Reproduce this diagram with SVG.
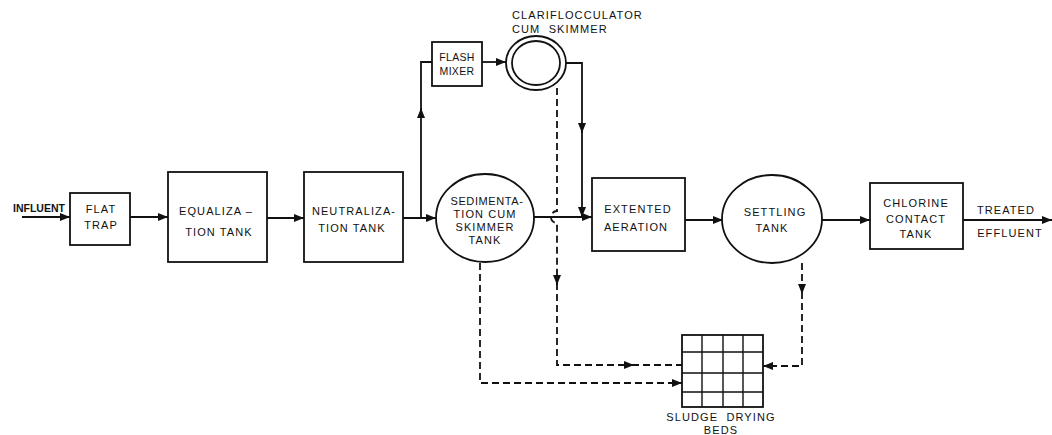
<svg xmlns="http://www.w3.org/2000/svg" width="1052" height="435" viewBox="0 0 1052 435">
<style>
.n{fill:#fff;stroke:#111;stroke-width:1.8}
.t{font-family:"Liberation Sans",Arial,sans-serif;font-size:11px;fill:#111;text-anchor:middle;letter-spacing:1.1px}
.l{stroke:#111;stroke-width:1.8;fill:none}
.d{stroke:#111;stroke-width:1.8;fill:none;stroke-dasharray:7 4}
.g{stroke:#111;stroke-width:1.4}
</style>
<defs>
<marker id="a" viewBox="0 0 10 8" refX="10" refY="4" markerWidth="10" markerHeight="8" markerUnits="userSpaceOnUse" orient="auto">
<path d="M0,0 L10,4 L0,8 Z" fill="#111"/>
</marker>
</defs>
<rect width="1052" height="435" fill="#fff"/>
<g id="connectors">
<path class="l" d="M22,217 H70" marker-end="url(#a)"/>
<path class="l" d="M130,217 H168" marker-end="url(#a)"/>
<path class="l" d="M267,218 H304" marker-end="url(#a)"/>
<path class="l" d="M403,218 H436" marker-end="url(#a)"/>
<path class="l" d="M421,218 V108" marker-end="url(#a)"/>
<path class="l" d="M421,110 V62 H432"/>
<path class="l" d="M482,62 H506" marker-end="url(#a)"/>
<path class="l" d="M566,63 H582 V133" marker-end="url(#a)"/>
<path class="l" d="M582,131 V217" marker-end="url(#a)"/>
<path class="l" d="M534,217 H592" marker-end="url(#a)"/>
<path class="l" d="M685,220 H723" marker-end="url(#a)"/>
<path class="l" d="M822,220 H870" marker-end="url(#a)"/>
<path class="l" d="M963,220 H1052" marker-end="url(#a)"/>
<path class="d" d="M557,88 V211 A6,6 0 0 0 557,223 V285" marker-end="url(#a)"/>
<path class="d" d="M557,283 V365 H634" marker-end="url(#a)"/>
<path class="d" d="M632,365 H682"/>
<path class="d" d="M480,263 V383 H682" marker-end="url(#a)"/>
<path class="d" d="M802,263 V294" marker-end="url(#a)"/>
<path class="d" d="M802,292 V366 H763" marker-end="url(#a)"/>
</g>
<g id="influent"><text class="t" x="39" y="212" style="font-weight:bold;letter-spacing:0;font-size:10.5px">INFLUENT</text></g>
<g id="flat-trap">
<rect class="n" x="70" y="193" width="60" height="52"/>
<text class="t" x="101" y="213">FLAT</text>
<text class="t" x="101" y="229">TRAP</text>
</g>
<g id="equalization">
<rect class="n" x="168" y="172" width="99" height="90"/>
<text class="t" x="216" y="215" xml:space="preserve">EQUALIZA –</text>
<text class="t" x="219" y="236">TION TANK</text>
</g>
<g id="neutralization">
<rect class="n" x="304" y="172" width="99" height="90"/>
<text class="t" x="354" y="215">NEUTRALIZA-</text>
<text class="t" x="352" y="232">TION TANK</text>
</g>
<g id="flash-mixer">
<rect class="n" x="432" y="42" width="50" height="44"/>
<text class="t" x="457" y="61" style="letter-spacing:0.3px;font-size:10.5px">FLASH</text>
<text class="t" x="457" y="75" style="letter-spacing:0.3px;font-size:10.5px">MIXER</text>
</g>
<g id="clariflocculator">
<ellipse class="n" cx="536" cy="63" rx="30" ry="27"/>
<ellipse class="n" cx="536" cy="63" rx="24" ry="22"/>
<text class="t" x="512" y="19" style="text-anchor:start">CLARIFLOCCULATOR</text>
<text class="t" x="512" y="33" style="text-anchor:start" xml:space="preserve">CUM  SKIMMER</text>
</g>
<g id="sedimentation">
<ellipse class="n" cx="485" cy="218" rx="49" ry="44"/>
<text class="t" x="487" y="205" style="letter-spacing:0.6px">SEDIMENTA-</text>
<text class="t" x="485" y="218">TION CUM</text>
<text class="t" x="485" y="231">SKIMMER</text>
<text class="t" x="485" y="244">TANK</text>
</g>
<g id="extended-aeration">
<rect class="n" x="592" y="178" width="93" height="73"/>
<text class="t" x="638" y="213">EXTENTED</text>
<text class="t" x="636" y="231">AERATION</text>
</g>
<g id="settling-tank">
<ellipse class="n" cx="772" cy="219" rx="50" ry="44"/>
<text class="t" x="775" y="216">SETTLING</text>
<text class="t" x="772" y="232">TANK</text>
</g>
<g id="chlorine-contact">
<rect class="n" x="870" y="183" width="93" height="66"/>
<text class="t" x="916" y="207">CHLORINE</text>
<text class="t" x="916" y="223">CONTACT</text>
<text class="t" x="916" y="238">TANK</text>
</g>
<g id="treated-effluent">
<text class="t" x="1006" y="214">TREATED</text>
<text class="t" x="1010" y="237">EFFLUENT</text>
</g>
<g id="sludge-drying-beds">
<rect class="n" x="682" y="335" width="81" height="72"/>
<path class="g" d="M702,335 V407 M723,335 V407 M743,335 V407 M682,352 H763 M682,373 H763 M682,392 H763"/>
<text class="t" x="721" y="421" xml:space="preserve">SLUDGE  DRYING</text>
<text class="t" x="721" y="434">BEDS</text>
</g>
</svg>
